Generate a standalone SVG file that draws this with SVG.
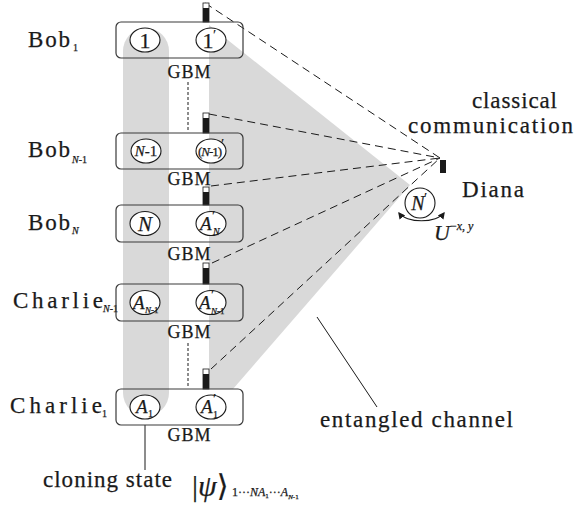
<svg xmlns="http://www.w3.org/2000/svg" width="577" height="508" viewBox="0 0 577 508">
<style>
text{font-family:"Liberation Serif","DejaVu Serif",serif;fill:#1a1a1a;stroke:#1a1a1a;stroke-width:0.25}
.lbl{font-size:23px}
.sub{font-size:10px}
.gbm{font-size:18px}
.it{font-style:italic}
.pr{font-size:15px;stroke-width:0.1}
.box{fill:none;stroke:#3a3a3a;stroke-width:1.2}
.q{fill:#fff;stroke:#1a1a1a;stroke-width:1.1}
.dash{fill:none;stroke:#1a1a1a;stroke-width:1;stroke-dasharray:8 5}
.dot{fill:none;stroke:#1a1a1a;stroke-width:1;stroke-dasharray:3 2}
.bar{fill:#fff;stroke:#1a1a1a;stroke-width:0.8}
.gray{fill:#d9d9d9}
</style>
<defs>
<marker id="ah" viewBox="0 0 10 10" refX="8" refY="5" markerWidth="7" markerHeight="7" orient="auto-start-reverse" markerUnits="userSpaceOnUse">
<path d="M0,0 L10,5 L0,10 Z" fill="#1a1a1a"/>
</marker>
</defs>
<rect width="577" height="508" fill="#fff"/>
<g id="entangled-channel">
<rect class="gray" x="123" y="28" width="46" height="388" rx="23"/>
<polygon class="gray" points="209,25 410,185 233,389 209,389"/>
</g>
<g id="connectors">
<line class="dash" x1="205" y1="3" x2="440" y2="158"/>
<line class="dash" x1="209" y1="114" x2="440" y2="158"/>
<line class="dash" x1="211" y1="186" x2="440" y2="158"/>
<line class="dash" x1="212" y1="263" x2="440" y2="158"/>
<line class="dash" x1="211" y1="369" x2="440" y2="158"/>
<line class="dot" x1="188" y1="82" x2="188" y2="132"/>
<line class="dot" x1="188" y1="343" x2="188" y2="388"/>
<line x1="317" y1="317" x2="377" y2="407" stroke="#1a1a1a" stroke-width="1"/>
<line x1="145" y1="425" x2="145" y2="470" stroke="#1a1a1a" stroke-width="1"/>
</g>
<g id="bars">
<rect class="bar" x="203" y="3" width="6" height="19"/><rect x="203" y="8" width="6" height="14" fill="#1a1a1a"/>
<rect class="bar" x="203" y="113" width="6" height="20"/><rect x="203" y="118" width="6" height="15" fill="#1a1a1a"/>
<rect class="bar" x="203" y="187" width="6" height="18"/><rect x="203" y="192" width="6" height="13" fill="#1a1a1a"/>
<rect class="bar" x="203" y="263" width="6" height="21"/><rect x="203" y="268" width="6" height="16" fill="#1a1a1a"/>
<rect class="bar" x="203" y="369" width="6" height="20"/><rect x="203" y="374" width="6" height="15" fill="#1a1a1a"/>
</g>
<g id="bob1">
<text class="lbl" x="28" y="47" textLength="42">Bob</text><text class="sub" x="73" y="51">1</text>
<rect class="box" x="116" y="22" width="127" height="36" rx="5"/>
<ellipse class="q" cx="145" cy="40" rx="15" ry="12"/>
<ellipse class="q" cx="211" cy="40" rx="15" ry="12"/>
<text x="145" y="48" font-size="22" text-anchor="middle">1</text>
<text x="208" y="48" font-size="22" text-anchor="middle">1</text><text class="pr" x="213" y="40">′</text>
<text class="gbm" x="189" y="78" text-anchor="middle" textLength="43">GBM</text>
</g>
<g id="bobN-1">
<text class="lbl" x="28" y="157" textLength="42">Bob</text><text class="sub" x="72" y="163"><tspan class="it">N</tspan>-1</text>
<rect class="box" x="116" y="133" width="127" height="36" rx="5"/>
<ellipse class="q" cx="146" cy="151" rx="15" ry="12"/>
<ellipse class="q" cx="211" cy="151" rx="15" ry="12"/>
<text x="146" y="156" font-size="15" text-anchor="middle"><tspan class="it">N</tspan>-1</text>
<text x="210" y="156" font-size="13" text-anchor="middle" textLength="24">(<tspan class="it">N</tspan>-1)</text><text class="pr" x="221" y="149" font-size="12">′</text>
<text class="gbm" x="189" y="185" text-anchor="middle" textLength="43">GBM</text>
</g>
<g id="bobN">
<text class="lbl" x="28" y="230" textLength="42">Bob</text><text class="sub it" x="72" y="234">N</text>
<rect class="box" x="116" y="205" width="127" height="37" rx="5"/>
<ellipse class="q" cx="145" cy="223.5" rx="15" ry="12"/>
<ellipse class="q" cx="211" cy="223.5" rx="15" ry="12"/>
<text x="145" y="231" font-size="21" class="it" text-anchor="middle">N</text>
<text x="200" y="230" font-size="19" class="it">A</text><text class="pr" x="212" y="221">′</text><text class="sub it" x="213" y="235">N</text>
<text class="gbm" x="189" y="260" text-anchor="middle" textLength="43">GBM</text>
</g>
<g id="charlieN-1">
<text class="lbl" x="13" y="308" textLength="90">Charlie</text><text class="sub" x="103" y="312" font-size="9"><tspan class="it">N</tspan>-1</text>
<rect class="box" x="116" y="284" width="127" height="37" rx="5"/>
<ellipse class="q" cx="145" cy="302.5" rx="15" ry="12"/>
<ellipse class="q" cx="211" cy="302.5" rx="15" ry="12"/>
<text x="133" y="309" font-size="19" class="it">A</text><text x="145" y="313" font-size="9"><tspan class="it">N</tspan>-1</text>
<text x="199" y="309" font-size="19" class="it">A</text><text class="pr" x="211" y="300">′</text><text x="211" y="314" font-size="9"><tspan class="it">N</tspan>-1</text>
<text class="gbm" x="189" y="338" text-anchor="middle" textLength="43">GBM</text>
</g>
<g id="charlie1">
<text class="lbl" x="10" y="413" textLength="92">Charlie</text><text class="sub" x="102" y="417">1</text>
<rect class="box" x="116" y="389" width="127" height="36" rx="5"/>
<ellipse class="q" cx="145" cy="407" rx="15" ry="12"/>
<ellipse class="q" cx="211" cy="407" rx="15" ry="12"/>
<text x="136" y="413" font-size="19" class="it">A</text><text class="sub" x="148" y="417">1</text>
<text x="201" y="413" font-size="19" class="it">A</text><text class="pr" x="213" y="404">′</text><text class="sub" x="213" y="418">1</text>
<text class="gbm" x="189" y="441" text-anchor="middle" textLength="43">GBM</text>
</g>
<g id="diana">
<rect x="440" y="160" width="6" height="13" fill="#1a1a1a"/>
<text class="lbl" x="472" y="108" textLength="85">classical</text>
<text class="lbl" x="408" y="133" textLength="165">communication</text>
<text class="lbl" x="462" y="197" textLength="62">Diana</text>
<circle class="q" cx="420" cy="203" r="15"/>
<text x="418" y="210" font-size="20" class="it" text-anchor="middle">N</text><text class="pr" x="424" y="203">′</text>
<path d="M399,213 A24,12 0 0 0 444,213" fill="none" stroke="#1a1a1a" stroke-width="1.1" marker-start="url(#ah)" marker-end="url(#ah)"/>
<text x="434" y="240" font-size="22" class="it">U</text><text x="450" y="230" font-size="12">−<tspan class="it">x</tspan>, <tspan class="it">y</tspan></text>
</g>
<g id="entangled-label">
<text x="320" y="427" font-size="23" textLength="193">entangled channel</text>
</g>
<g id="cloning-state">
<text class="lbl" x="43" y="487" textLength="129">cloning state</text>
<text x="192" y="496" font-size="30">|<tspan class="it">ψ</tspan>⟩</text>
<text x="232" y="496" font-size="12">1···<tspan class="it">NA</tspan><tspan font-size="7" dy="2">1</tspan><tspan dy="-2">···</tspan><tspan class="it">A</tspan><tspan font-size="7" dy="3"><tspan class="it">N</tspan>-1</tspan></text>
</g>
</svg>
